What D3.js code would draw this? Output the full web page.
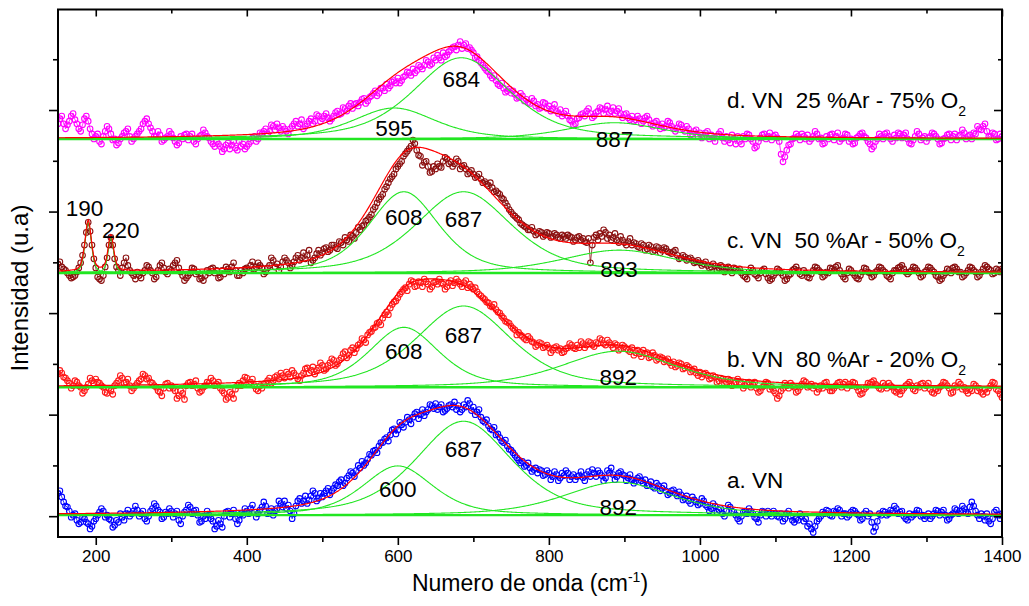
<!DOCTYPE html>
<html>
<head>
<meta charset="utf-8">
<script src="https://cdn.jsdelivr.net/npm/d3@7"></script>
<style>
  body { margin: 0; background: #fff; }
  text { font-family: Arial, "Liberation Sans", sans-serif; fill: #000; }
</style>
</head>
<body>
<svg id="chart" width="1029" height="606"></svg>
<script>
// Raman spectra (intensity in a.u., relative to each spectrum's baseline).
// Readings on the 5 cm-1 grid 150, 155, ... 1400 and on the intermediate grid 152.5, 157.5, ... 1397.5
const waveStart = 150, waveStep = 5;

const spectrumA = [
  .45,.38,.2,.1,.02,-.08,-.12,-.05,-.15,-.2,
  -.05,.08,.1,.02,-.08,-.18,-.12,-.02,.05,0,
  .1,.12,.05,-.05,0,.15,.2,.08,-.02,.05,
  .1,.05,-.08,0,.12,.18,.1,.02,-.1,-.05,
  .02,-.1,-.2,-.15,0,.1,.05,-.05,-.08,.02,
  .1,.15,.08,.05,.18,.2,.1,.02,.15,.25,
  .3,.22,-.05,.2,.35,.3,.25,.4,.45,.35,
  .38,.5,.42,.55,.6,.72,.65,.8,.85,.9,
  .95,1,1.12,1.2,1.3,1.38,1.45,1.55,1.6,1.72,
  1.7,1.8,1.85,1.9,1.95,2.05,2,1.98,2.1,2.18,
  2.22,2.15,2.05,2.12,2.2,2.25,2.18,2.1,2.15,2.22,
  2.15,2.05,1.95,1.85,1.78,1.7,1.6,1.55,1.45,1.38,
  1.3,1.2,1.1,1.08,1,.95,.92,.85,.9,.82,
  .85,.78,.82,.75,.8,.85,.78,.72,.8,.76,
  .82,.78,.85,.9,.8,.75,.85,.82,.78,.88,
  .8,.75,.72,.7,.78,.65,.6,.68,.55,.6,
  .55,.5,.45,.52,.4,.42,.35,.3,.38,.28,
  .25,.3,.18,.15,.2,.12,.05,.1,.18,.08,
  -.05,0,.1,.15,.05,-.05,.02,.08,.1,0,
  .05,-.02,-.1,.05,0,-.12,-.08,0,-.05,-.15,
  -.32,-.1,0,.05,.1,0,.08,.12,.05,-.02,
  .08,.1,.02,-.05,.1,.05,-.3,-.1,.02,.08,
  .05,.1,.15,.08,0,-.08,-.02,.05,.1,.02,
  0,-.05,.05,.1,.08,.02,-.05,.05,.12,.1,
  .15,.05,.28,.1,-.05,0,.05,-.15,.08,.02,
  .05
];
const spectrumAMid = [
  .5,.28,.18,-.02,.05,-.15,-.02,-.12,-.25,-.1,
  .02,.15,-.02,-.05,-.22,-.08,.05,-.08,.12,.05,
  .2,0,.1,-.1,.1,.25,.12,-.05,.08,.15,
  -.02,.1,-.15,.08,.22,.05,.12,-.12,0,.1,
  -.05,-.25,-.08,-.22,.08,-.02,.12,-.15,.05,.15,
  .05,.22,-.02,.12,.28,.05,.15,.1,.3,.18,
  .15,.1,.05,.3,.25,.4,.32,.5,.3,.45,
  .45,.55,.5,.62,.68,.6,.75,.88,.78,1,
  1.08,1.05,1.22,1.28,1.25,1.45,1.52,1.48,1.7,1.62,
  1.85,1.75,1.95,1.82,2.02,1.92,2.1,2.05,2.2,2.12,
  2.1,2.2,2.08,2.18,2.15,2.1,2.05,2.2,2.28,2.08,
  2,2.1,1.88,1.9,1.72,1.75,1.62,1.48,1.5,1.32,
  1.25,1.15,1.05,.98,1.05,.88,.95,.92,.8,.9,
  .72,.88,.7,.85,.9,.72,.82,.78,.88,.7,
  .88,.92,.78,.85,.7,.9,.95,.72,.85,.82,
  .7,.82,.65,.75,.7,.72,.62,.58,.65,.5,
  .6,.42,.5,.45,.48,.32,.4,.25,.32,.22,
  .35,.22,.1,.25,.08,.15,0,.22,.1,.02,
  -.1,.08,.05,.1,-.02,-.12,.1,0,.05,.1,
  0,.05,-.05,.1,-.08,-.05,.05,-.1,-.2,-.25,
  -.2,-.05,.08,.12,.02,.1,.15,0,.05,.02,
  .12,.05,-.08,.05,0,-.12,-.22,.05,.1,.02,
  .12,.2,.05,.1,-.05,.05,.02,.12,0,-.05,
  .05,0,.12,.02,.12,-.08,.02,.15,.05,.2,
  .08,.18,.2,.02,.05,-.08,-.1,-.05,.12,-.05
];

const spectrumB = [
  .28,.3,.2,.1,.05,.12,.02,-.05,.08,.15,
  .18,.1,.02,-.1,-.05,.05,.15,.2,.12,.05,
  0,.1,.18,.25,.2,.1,.02,-.08,0,.1,
  .05,-.05,-.15,-.1,.05,.12,.08,0,-.05,.05,
  .1,.15,.08,0,-.1,-.18,-.12,-.02,.1,.15,
  .2,.12,.05,-.05,0,.1,.2,.15,.25,.3,
  .2,.28,.35,.25,.15,.3,.4,.35,.28,.4,
  .45,.38,.5,.55,.48,.6,.72,.65,.8,.78,
  .88,.95,1.05,1.12,1.2,1.3,1.38,1.5,1.58,1.7,
  1.78,1.9,1.98,2.05,2.1,2.02,2.08,2.15,2.05,2,
  2.1,2.15,2.05,2,2.12,2.08,2.1,2,2.12,2.05,
  1.95,1.9,1.82,1.75,1.68,1.6,1.55,1.48,1.38,1.3,
  1.22,1.15,1.1,1.02,.95,.98,.9,.85,.88,.82,
  .8,.75,.82,.78,.72,.8,.85,.78,.8,.88,
  .85,.9,.82,.88,.95,.85,.9,.8,.85,.78,
  .82,.75,.8,.7,.68,.75,.7,.62,.65,.58,
  .6,.55,.5,.52,.45,.48,.4,.42,.35,.3,
  .32,.28,.25,.2,.22,.15,.18,.12,.15,.1,
  .18,.1,.05,.12,.08,0,-.05,.05,.1,.02,
  -.1,-.15,0,.05,.1,.02,-.05,.08,.12,.05,
  0,-.08,.05,.1,.02,-.05,.05,.12,.08,0,
  .05,.1,-.05,-.1,.02,.08,.15,.05,-.02,.05,
  .1,.02,-.08,-.12,0,.08,.05,-.05,.02,.1,
  .05,-.02,-.1,-.05,.05,.1,0,-.08,.02,.08,
  .02,-.1,-.05,.05,0,-.12,-.08,.05,.1,-.05,
  -.18
];
const spectrumBMid = [
  .35,.22,.15,0,.15,.05,-.1,.02,.2,.1,
  .12,.05,-.08,0,-.12,.1,.25,.1,.18,-.05,
  .05,.15,.28,.18,.12,.05,-.05,-.15,.08,0,
  0,-.2,-.05,-.22,.1,.05,.15,-.08,.02,.12,
  .2,.05,.12,-.05,-.22,-.08,-.2,.05,.05,.22,
  .08,.18,-.02,.05,.08,.15,.1,.22,.18,.25,
  .32,.22,.3,.18,.25,.38,.3,.42,.35,.5,
  .35,.45,.58,.45,.55,.68,.6,.75,.7,.85,
  .98,.9,1.1,1.18,1.28,1.25,1.45,1.45,1.65,1.72,
  1.85,1.95,1.92,2.12,2,2.1,2,2.1,1.95,2.08,
  2.05,2.08,1.95,2.08,2.02,2.15,2.05,2.08,1.98,2,
  1.98,1.85,1.78,1.7,1.62,1.65,1.5,1.42,1.32,1.28,
  1.18,1.05,1.05,.98,1.02,.92,.82,.9,.8,.85,
  .7,.8,.75,.7,.78,.88,.8,.85,.92,.8,
  .92,.85,.9,.98,.88,.95,.85,.88,.75,.85,
  .78,.72,.65,.75,.62,.68,.6,.7,.55,.62,
  .52,.58,.45,.42,.5,.38,.45,.32,.38,.25,
  .22,.3,.18,.25,.12,.2,.08,.18,.05,.12,
  .12,0,.1,.02,.12,-.08,.02,.12,-.02,-.05,
  -.2,-.05,.1,0,.05,-.08,.02,.15,.02,.08,
  .05,-.02,0,.12,-.05,0,.1,.02,.12,.08,
  .12,.02,-.12,-.02,.1,.12,.08,0,.1,0,
  .05,-.05,-.02,-.05,.05,.12,-.02,.05,.08,0,
  .1,-.08,-.02,.02,.12,.05,-.1,.05,.12,-.02,
  -.05,-.02,.08,-.05,-.08,-.02,0,.12,-.02,-.12
];

const spectrumC = [
  .18,.12,.05,-.05,-.08,.02,.2,.55,1,.55,
  .1,-.12,-.05,.3,.7,.28,.05,.1,.3,.05,
  -.05,.02,-.1,.05,.12,0,-.08,.15,.1,-.02,
  .05,.2,.1,-.05,-.1,0,.08,.02,-.1,-.05,
  0,.1,.05,-.08,-.02,.08,.12,.05,-.05,0,
  .1,.15,.08,.2,.1,.02,.15,.25,.18,.12,
  .3,.2,.15,.3,.25,.4,.35,.2,.3,.45,
  .4,.5,.45,.55,.48,.6,.7,.62,.72,.8,
  .85,.95,1.05,1.15,1.3,1.45,1.55,1.7,1.85,1.95,
  2.1,2.2,2.35,2.45,2.62,2.42,2.3,2.18,2.1,2,
  2.05,2.1,2.2,2.25,2.18,2.15,2.2,2.1,2.05,1.98,
  1.95,1.9,1.85,1.8,1.72,1.68,1.62,1.55,1.45,1.32,
  1.2,1.12,1.05,.95,.9,.85,.82,.78,.8,.75,
  .78,.72,.75,.68,.72,.75,.7,.65,.72,.68,
  .6,.2,.7,.65,.72,.8,.75,.7,.65,.72,
  .6,.62,.55,.58,.5,.55,.48,.52,.45,.5,
  .45,.48,.4,.42,.35,.3,.32,.28,.25,.22,
  .2,.18,.15,.12,.14,.1,.12,.08,.05,.1,
  .05,0,-.08,.02,.05,-.05,0,.08,-.1,-.12,
  0,.05,-.05,-.12,-.02,.08,.05,-.05,0,-.1,
  .05,.1,.02,-.05,0,.08,.12,.05,-.08,0,
  .05,-.05,-.12,.02,.08,0,-.05,.05,.1,.02,
  -.08,0,.05,.12,.08,-.02,.05,.1,0,-.05,
  .05,.1,.02,-.08,-.12,0,.05,.1,.08,.02,
  -.05,.05,.1,.02,-.05,.08,.12,.05,0,.05,
  .08
];
const spectrumCMid = [
  .22,.08,0,-.1,-.05,.1,.35,.8,.82,.28,
  -.08,-.15,.12,.55,.55,.12,-.05,.2,.15,0,
  -.12,-.05,0,.15,.05,-.12,.05,.2,.02,.08,
  .15,.25,.02,-.15,-.05,.1,-.02,-.12,-.15,.05,
  .08,0,-.1,.05,.12,.02,.2,-.05,.05,.08,
  .05,.22,.12,.15,-.02,.1,.3,.12,.05,.22,
  .25,.1,.22,.35,.3,.28,.45,.25,.38,.35,
  .48,.42,.55,.5,.62,.55,.65,.75,.68,.9,
  .92,1.02,1.1,1.25,1.38,1.5,1.65,1.78,1.9,2.05,
  2.15,2.3,2.4,2.5,2.55,2.32,2.12,2.2,1.98,2.1,
  2.15,2.08,2.28,2.15,2.1,2.25,2.05,2.12,1.95,2.02,
  1.88,1.95,1.78,1.75,1.78,1.6,1.58,1.48,1.38,1.25,
  1.15,1.08,.98,.92,.85,.9,.75,.82,.72,.8,
  .7,.78,.7,.75,.68,.72,.62,.7,.65,.62,
  .68,.55,.75,.78,.85,.68,.65,.78,.6,.65,
  .55,.68,.6,.52,.58,.45,.55,.42,.52,.4,
  .5,.42,.38,.45,.28,.35,.25,.3,.2,.25,
  .15,.22,.1,.18,.05,.15,.02,.12,0,.08,
  .08,-.05,-.12,.1,-.02,-.1,.05,-.02,-.15,-.05,
  .08,0,-.15,-.05,.05,.12,-.02,.05,-.08,-.02,
  .12,.05,-.08,.02,.1,.05,.15,-.02,-.12,.08,
  0,-.1,-.05,.1,.02,-.08,.02,.12,.05,-.05,
  -.12,.05,.1,.15,.02,.02,.12,.05,-.08,.02,
  .12,.05,-.05,-.15,-.05,.08,0,.12,.02,-.08,
  0,.12,.05,-.08,.02,.15,.08,-.02,.08,.02
];

const spectrumD = [
  .3,.45,.2,.35,.5,.3,.15,.4,.35,.1,
  .05,-.05,.05,.25,.1,0,-.08,.05,.15,.05,
  0,.1,.2,.35,.3,.15,.05,.08,-.02,.05,
  .1,-.05,-.08,0,.1,.05,-.05,0,.08,.12,
  .02,-.1,-.05,-.15,-.2,-.08,-.12,-.18,-.05,-.1,
  -.15,-.05,.05,0,.1,.2,.15,.25,.3,.15,
  .2,.1,.25,.35,.3,.2,.3,.4,.35,.45,
  .4,.5,.35,.45,.55,.5,.6,.65,.6,.7,
  .72,.8,.75,.85,.95,.9,1,1.08,1.05,1.15,
  1.2,1.15,1.25,1.3,1.38,1.35,1.42,1.45,1.52,1.48,
  1.55,1.6,1.7,1.65,1.75,1.82,1.85,1.78,1.88,1.8,
  1.7,1.62,1.5,1.4,1.32,1.2,1.15,1.05,1,.95,
  .9,.88,.82,.85,.78,.7,.75,.68,.62,.7,
  .65,.6,.55,.58,.5,.45,.35,.3,.42,.5,
  .55,.5,.45,.55,.6,.58,.52,.62,.55,.5,
  .48,.42,.45,.38,.4,.35,.45,.3,.32,.28,
  .3,.25,.32,.2,.22,.28,.15,.2,.1,.18,
  .12,.05,.15,.08,-.05,.1,.02,.05,-.08,0,
  .05,-.1,0,.08,-.05,-.15,.02,.1,.05,-.02,
  .08,-.05,-.45,-.22,-.1,.02,.05,.1,0,-.05,
  .05,.1,.02,-.08,0,.1,.05,-.05,.02,.08,
  0,-.08,.05,.12,.02,-.1,-.15,0,.05,.1,
  .05,-.05,.02,.1,.08,0,-.1,.05,.1,.02,
  -.05,.05,.1,0,-.08,.02,.1,.05,-.02,.08,
  .12,.05,0,.1,.2,.25,.15,.05,.1,0,
  .05
];
const spectrumDMid = [
  .4,.3,.28,.45,.38,.2,.28,.45,.2,0,
  .1,-.1,.15,.2,-.02,-.12,0,.12,.2,-.05,
  .05,.15,.3,.4,.22,.05,.15,-.05,.02,.15,
  .02,-.12,.05,.08,-.02,.1,-.1,.05,.18,.05,
  -.05,-.15,-.1,-.25,-.12,-.2,-.05,-.22,-.15,-.2,
  -.1,.02,-.05,.12,.15,.1,.28,.18,.22,.25,
  .15,.2,.3,.25,.38,.25,.35,.3,.48,.35,
  .45,.42,.4,.52,.48,.62,.55,.7,.68,.65,
  .78,.7,.82,.9,.85,1,.95,1,1.12,1.1,
  1.1,1.22,1.32,1.25,1.3,1.45,1.38,1.55,1.45,1.6,
  1.65,1.55,1.62,1.72,1.8,1.75,1.92,1.85,1.78,1.75,
  1.6,1.55,1.45,1.35,1.25,1.25,1.08,1.1,.92,.98,
  .95,.8,.9,.75,.72,.8,.65,.6,.72,.6,
  .55,.68,.5,.45,.55,.38,.28,.4,.48,.45,
  .6,.42,.52,.62,.5,.65,.55,.5,.6,.42,
  .5,.38,.35,.45,.3,.42,.38,.25,.35,.2,
  .22,.35,.25,.15,.3,.2,.25,.08,.15,.05,
  .02,.12,0,.02,.05,.15,-.05,-.02,.08,-.1,
  -.05,.05,.1,0,-.18,-.05,.08,0,.12,.05,
  .02,-.3,-.35,-.12,0,.1,-.02,.05,.08,0,
  .15,0,-.1,.05,.08,-.02,.12,0,.1,-.05,
  -.1,.02,.1,.05,-.05,-.2,-.05,.1,0,.12,
  0,.08,.12,.02,.12,-.08,-.02,.15,-.02,.05,
  .02,.12,.05,-.1,0,.08,-.02,.1,.05,.18,
  0,.08,.12,.25,.18,.3,.05,.12,-.02,.1
];

// vertical offset of each stacked spectrum and its fitted flat baseline
const offsets   = [0, 2.52, 4.79, 7.43];
const baselines = [0.02, 0.02, 0, 0];

// fitted bands: [centre (cm-1), height, FWHM]
const peaksA = [[600, 0.97, 110], [687, 1.85, 150], [892, 0.65, 170]];
const peaksB = [[608, 1.18, 110], [687, 1.60, 150], [892, 0.71, 180]];
const peaksC = [[190, 1.00, 10], [220, 0.70, 9], [608, 1.60, 110], [687, 1.60, 150], [893, 0.45, 180]];
const peaksD = [[595, 0.61, 130], [684, 1.60, 150], [887, 0.32, 150]];

const seriesNames = ["a. VN", "b. VN  80 %Ar - 20% O", "c. VN  50 %Ar - 50% O", "d. VN  25 %Ar - 75% O"];
const seriesSub   = ["", "2", "2", "2"];
const seriesColors = ["#0000ff", "#ff1a1a", "#8b1010", "#ff00ff"];

const xTicks = [200, 400, 600, 800, 1000, 1200, 1400];
const xMinorTicks = [300, 500, 700, 900, 1100, 1300];
const yTicks = [0, 2, 4, 6, 8];
const yMinorTicks = [1, 3, 5, 7, 9];

// ---------------------------------------------------------------------------
const svg = d3.select("#chart");
const plotLeft = 58, plotRight = 1002, plotTop = 9.5, plotBottom = 537;

const x = d3.scaleLinear().domain([150, 1400]).range([plotLeft, plotRight]);
const y = d3.scaleLinear().domain([-0.41, 9.98]).range([plotBottom, plotTop]);

svg.append("defs").append("clipPath").attr("id", "plotClip")
  .append("rect").attr("x", plotLeft).attr("y", plotTop)
  .attr("width", plotRight - plotLeft).attr("height", plotBottom - plotTop);

// pseudo-Voigt band profile (50 % Gaussian / 50 % Lorentzian)
function band(w, p) {
  const r = (w - p[0]) / p[2];
  return p[1] * (0.5 * Math.exp(-4 * Math.LN2 * r * r) + 0.5 / (1 + 4 * r * r));
}

const spectra = [[spectrumA, spectrumAMid], [spectrumB, spectrumBMid], [spectrumC, spectrumCMid], [spectrumD, spectrumDMid]];
const peakSets = [peaksA, peaksB, peaksC, peaksD];
const grid = d3.range(150, 1400.01, 1);

const plot = svg.append("g").attr("clip-path", "url(#plotClip)");
const line = d3.line().x(d => x(d[0])).y(d => y(d[1]));

// measured points (both grids interleaved in wavenumber order)
spectra.forEach(([main, mid], i) => {
  const pts = [];
  main.forEach((v, k) => {
    pts.push([waveStart + k * waveStep, offsets[i] + v]);
    if (k < mid.length) pts.push([waveStart + (k + 0.5) * waveStep, offsets[i] + mid[k]]);
  });
  plot.append("path").datum(pts).attr("d", line)
    .attr("fill", "none").attr("stroke", seriesColors[i]).attr("stroke-width", 0.8);
  plot.append("g").selectAll("circle").data(pts).join("circle")
    .attr("cx", d => x(d[0])).attr("cy", d => y(d[1])).attr("r", 2.8)
    .attr("fill", "none").attr("stroke", seriesColors[i]).attr("stroke-width", 1.1);
});

// band components and baseline
peakSets.forEach((peaks, i) => {
  const base = offsets[i] + baselines[i];
  plot.append("path").datum([[150, base], [1400, base]]).attr("d", line)
    .attr("fill", "none").attr("stroke", "#22e622").attr("stroke-width", 2.4);
  peaks.forEach(p => {
    plot.append("path").datum(grid.map(w => [w, base + band(w, p)])).attr("d", line)
      .attr("fill", "none").attr("stroke", "#22e622").attr("stroke-width", 1.1);
  });
});

// cumulative fit
peakSets.forEach((peaks, i) => {
  const base = offsets[i] + baselines[i];
  plot.append("path")
    .datum(grid.map(w => [w, base + d3.sum(peaks, p => band(w, p))]))
    .attr("d", line).attr("fill", "none").attr("stroke", "#ff0000").attr("stroke-width", 1.2);
});

// axes
function styleAxis(g) {
  g.select(".domain").remove();
  g.selectAll(".tick line").attr("stroke", "#000").attr("stroke-width", 1.6);
  g.selectAll(".tick text").style("font-size", "17px").style("font-family", "Arial, 'Liberation Sans', sans-serif");
}
svg.append("g").attr("transform", `translate(0,${plotBottom})`)
  .call(d3.axisBottom(x).tickValues(xTicks).tickSize(8).tickPadding(5).tickFormat(d3.format("d"))).call(styleAxis);
svg.append("g").attr("transform", `translate(0,${plotBottom})`)
  .call(d3.axisBottom(x).tickValues(xMinorTicks).tickSize(5).tickFormat("")).call(styleAxis);
svg.append("g").attr("transform", `translate(0,${plotTop})`)
  .call(d3.axisTop(x).tickValues(xTicks).tickSize(-7).tickFormat("")).call(styleAxis);
svg.append("g").attr("transform", `translate(0,${plotTop})`)
  .call(d3.axisTop(x).tickValues(xMinorTicks).tickSize(-4).tickFormat("")).call(styleAxis);
svg.append("g").attr("transform", `translate(${plotLeft},0)`)
  .call(d3.axisLeft(y).tickValues(yTicks).tickSize(9).tickFormat("")).call(styleAxis);
svg.append("g").attr("transform", `translate(${plotLeft},0)`)
  .call(d3.axisLeft(y).tickValues(yMinorTicks).tickSize(5).tickFormat("")).call(styleAxis);
svg.append("g").attr("transform", `translate(${plotRight},0)`)
  .call(d3.axisRight(y).tickValues(yTicks).tickSize(-8).tickFormat("")).call(styleAxis);
svg.append("g").attr("transform", `translate(${plotRight},0)`)
  .call(d3.axisRight(y).tickValues(yMinorTicks).tickSize(-4).tickFormat("")).call(styleAxis);

svg.append("rect").attr("x", plotLeft).attr("y", plotTop)
  .attr("width", plotRight - plotLeft).attr("height", plotBottom - plotTop)
  .attr("fill", "none").attr("stroke", "#000").attr("stroke-width", 2);

// axis titles
svg.append("text").attr("transform", `translate(28,288) rotate(-90)`)
  .attr("text-anchor", "middle").style("font-size", "24px").text("Intensidad (u.a)");
const xt = svg.append("text").attr("x", 530).attr("y", 591).attr("text-anchor", "middle").style("font-size", "23px");
xt.append("tspan").text("Numero de onda (cm");
xt.append("tspan").attr("dy", -9).style("font-size", "14px").text("-1");
xt.append("tspan").attr("dy", 9).text(")");

// band labels: [series, centre, label x (cm-1), label y (a.u.)]
const bandLabels = [
  [0, 600, 600, 0.38], [0, 687, 687, 1.16], [0, 892, 892, 0.02],
  [1, 608, 608, 3.09], [1, 687, 687, 3.41], [1, 892, 892, 2.59],
  [2, 190, 185, 5.92], [2, 220, 233, 5.47], [2, 608, 608, 5.73], [2, 687, 687, 5.70], [2, 893, 893, 4.72],
  [3, 595, 595, 7.48], [3, 684, 684, 8.46], [3, 887, 887, 7.27]
];
svg.append("g").selectAll("text").data(bandLabels).join("text")
  .attr("x", d => x(d[2])).attr("y", d => y(d[3]))
  .attr("text-anchor", "middle").style("font-size", "22.5px").text(d => d[1]);

// series captions
const captionY = [0.56, 2.94, 5.28, 8.04];
seriesNames.forEach((name, i) => {
  const t = svg.append("text").attr("x", 727).attr("y", y(captionY[i]))
    .style("font-size", "22.5px").style("white-space", "pre");
  t.append("tspan").text(name);
  if (seriesSub[i]) t.append("tspan").attr("dy", 8).style("font-size", "14px").text(seriesSub[i]);
});
</script>
</body>
</html>
